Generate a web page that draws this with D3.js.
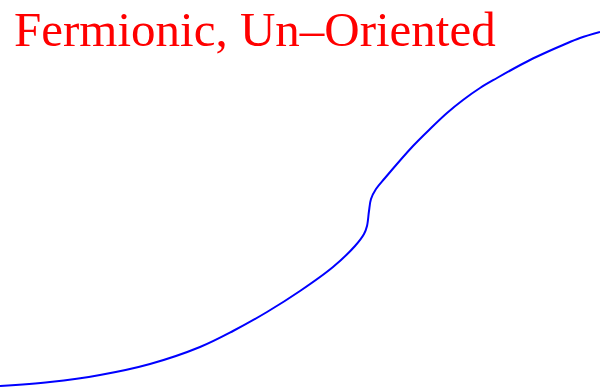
<!DOCTYPE html>
<html>
<head>
<meta charset="utf-8">
<script src="https://cdn.jsdelivr.net/npm/d3@7"></script>
<style>
  html,body{margin:0;padding:0;background:#fff;}
  svg{display:block;}
</style>
</head>
<body>
<svg id="chart" width="600" height="389"></svg>
<script>
// curve samples
const xVals=[0,50,100,150,200,233,267,300,333,355,364,367,369,371,376,385,413,430,447,463,480,497,513,530,547,563,580,600];
const yVals=[3,7,14,25,42,58,77,98,122,143,155,163,178,190,200,211,243,260,276,289,301,311,320,329,337,344,351,357];
const title="Fermionic, Un\u2013Oriented";

const svg=d3.select("#chart");
const w=600,h=389;

const x=d3.scaleLinear().domain([0,600]).range([0,w]);
const y=d3.scaleLinear().domain([0,389]).range([h,0]);

const pts=xVals.map((v,i)=>[v,yVals[i]]);

svg.append("path")
  .datum(pts)
  .attr("fill","none")
  .attr("stroke","#0000ff")
  .attr("stroke-width",2)
  .attr("d",d3.line().x(d=>x(d[0])).y(d=>y(d[1])).curve(d3.curveCatmullRom.alpha(0.5)));

svg.append("text")
  .attr("x",14)
  .attr("y",46)
  .attr("font-family","'Liberation Serif','Times New Roman',serif")
  .attr("font-size","49px")
  .attr("fill","#ff0000")
  .text(title);
</script>
</body>
</html>
